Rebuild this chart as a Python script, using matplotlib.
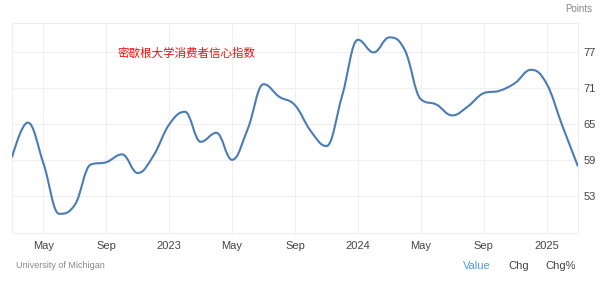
#!/usr/bin/env python3
"""University of Michigan consumer sentiment, Mar 2022 - Mar 2025."""

import matplotlib

matplotlib.use("Agg")

import matplotlib.pyplot as plt
from matplotlib.patches import PathPatch
from matplotlib.path import Path

plt.rcParams["font.family"] = ["Liberation Sans", "Noto Sans CJK SC", "DejaVu Sans"]

# monthly readings, index 0 = Mar 2022
months = list(range(37))
sentiment = [
    59.4, 65.2, 58.4, 50.0, 51.5, 58.2, 58.6, 59.9, 56.8, 59.7,
    64.9, 67.0, 62.0, 63.5, 59.0, 64.2, 71.6, 69.5, 68.1, 63.8, 61.3, 69.7,
    79.0, 76.9, 79.4, 77.2, 69.1, 68.2, 66.4, 67.9, 70.1, 70.5, 71.8, 74.0,
    71.7, 64.7, 57.9,
]
x_tick_pos = [2, 6, 10, 14, 18, 22, 26, 30, 34]
x_tick_labels = ["May", "Sep", "2023", "May", "Sep", "2024", "May", "Sep", "2025"]
y_ticks = [53, 59, 65, 71, 77]


def spline_path(xs, ys, smoothing=1.5):
    """Highcharts-style spline through the points as cubic Bezier segments."""
    verts = [(xs[0], ys[0])]
    codes = [Path.MOVETO]
    prev_right = (xs[0], ys[0])
    n = len(xs)
    for i in range(1, n):
        x, y = xs[i], ys[i]
        if i < n - 1:
            lx, ly = xs[i - 1], ys[i - 1]
            nx, ny = xs[i + 1], ys[i + 1]
            d = smoothing + 1
            lcx = (smoothing * x + lx) / d
            lcy = (smoothing * y + ly) / d
            rcx = (smoothing * x + nx) / d
            rcy = (smoothing * y + ny) / d
            corr = (rcy - lcy) * (rcx - x) / (rcx - lcx) + y - rcy
            lcy += corr
            rcy += corr
            if lcy > ly and lcy > y:
                lcy = max(ly, y)
                rcy = 2 * y - lcy
            elif lcy < ly and lcy < y:
                lcy = min(ly, y)
                rcy = 2 * y - lcy
            if rcy > ny and rcy > y:
                rcy = max(ny, y)
                lcy = 2 * y - rcy
            elif rcy < ny and rcy < y:
                rcy = min(ny, y)
                lcy = 2 * y - rcy
            left = (lcx, lcy)
            right = (rcx, rcy)
        else:
            left = (x, y)
            right = (x, y)
        verts += [prev_right, left, (x, y)]
        codes += [Path.CURVE4] * 3
        prev_right = right
    return Path(verts, codes)


fig = plt.figure(figsize=(6.02, 2.83), dpi=100)
ax = fig.add_axes([12 / 602, 50 / 283, 566 / 602, 210 / 283])

ax.add_patch(PathPatch(spline_path(months, sentiment), facecolor="none",
                       edgecolor="#4a7cb5", linewidth=1.5, zorder=3))
ax.set_xlim(0, 36)
ax.set_ylim(46.8, 81.8)

ax.set_xticks(x_tick_pos)
ax.set_xticklabels(x_tick_labels)
ax.set_yticks(y_ticks)
ax.yaxis.tick_right()
ax.tick_params(axis="both", length=0, labelsize=8, colors="#444444")
ax.tick_params(axis="x", pad=6)
ax.tick_params(axis="y", pad=4)
ax.grid(True, color="#f0f0f0", linewidth=0.8)
for spine in ax.spines.values():
    spine.set_color("#eeeeee")
    spine.set_linewidth(0.8)

ax.text(0.187, 0.84, "密歇根大学消费者信心指数", transform=ax.transAxes,
        color="#ee1111", fontsize=8.3,
        family=["Noto Sans CJK SC", "DejaVu Sans"])

fig.text(565 / 602, 1 - 9 / 283, "Points", color="#888888", fontsize=7,
         va="center")
fig.text(16 / 602, 1 - 266 / 283, "University of Michigan", color="#888888",
         fontsize=6.5, va="center")
fig.text(463 / 602, 1 - 266 / 283, "Value", color="#4a9ee8", fontsize=8,
         va="center")
fig.text(508 / 602, 1 - 266 / 283, "Chg", color="#444444", fontsize=8,
         va="center")
fig.text(545 / 602, 1 - 266 / 283, "Chg%", color="#444444", fontsize=8,
         va="center")

fig.savefig("out.png", dpi=100)
